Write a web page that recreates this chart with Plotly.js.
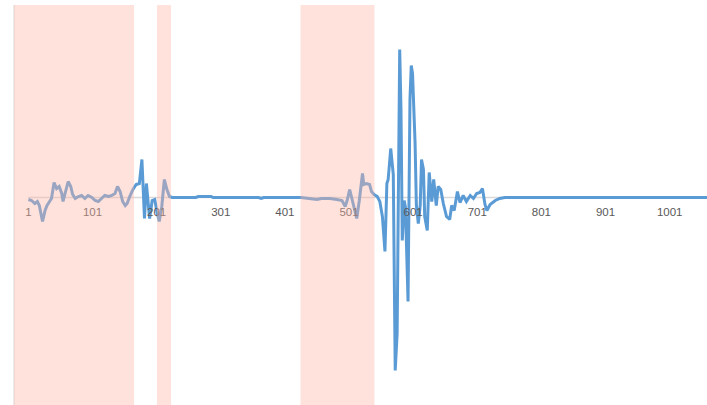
<!DOCTYPE html>
<html>
<head>
<meta charset="utf-8">
<script src="https://cdn.plot.ly/plotly-3.0.1.min.js"></script>
<style>html,body{margin:0;padding:0;background:#fff;}#chart{width:707px;height:405px;}</style>
</head>
<body>
<div id="chart"></div>
<script>
// Sample positions (category index) and signal amplitude
const sampleIndex = [1,6,11,15,18,23,27,30,34,37,41,45,49,53,55,60,63,67,70,74,79,84,89,94,100,105,110,115,120,126,131,136,140,144,148,152,155,159,164,169,174,178,182,185,190,194,198,201,205,209,213,217,221,225,262,266,286,289,360,364,368,426,440,451,458,471,482,490,495,498,502,506,513,517,522,524,528,533,536,540,545,549,553,557,560,562,566,570,573,576,578,580,582,584,587,589,593,596,598,600,604,606,609,612,614,617,619,623,626,630,633,637,640,644,648,653,658,661,665,670,674,679,684,690,695,700,705,709,713,716,721,729,736,744,1060];
const amplitude = [-0.02,-0.03,-0.06,-0.04,-0.08,-0.24,-0.13,-0.08,-0.04,-0.01,0.15,0.09,0.11,0.04,-0.04,0.09,0.16,0.11,0.03,-0.01,0.01,0.02,-0.01,0.02,0.00,-0.03,-0.04,-0.01,0.02,0.01,0.02,0.04,0.11,0.06,-0.04,-0.08,-0.06,0.01,0.08,0.13,0.14,0.38,-0.21,0.14,-0.21,-0.03,-0.02,-0.13,-0.24,-0.09,0.18,0.08,0.01,0,0,0.01,0.01,0,0,-0.01,0,0,-0.01,-0.02,-0.01,-0.01,-0.02,-0.03,-0.09,-0.03,0.08,-0.03,-0.21,-0.03,0.24,0.13,0.14,0.13,0.06,0.03,0.01,-0.04,-0.19,-0.54,0.14,0.18,0.49,0.23,-1.73,-1.36,0.58,1.48,0.88,-0.43,-0.03,-0.10,-1.04,0.98,1.32,1.24,0.54,-0.08,-0.26,-0.08,0.38,0.28,-0.19,-0.33,0.25,-0.04,0.18,-0.08,0.11,0.08,-0.06,-0.19,-0.22,-0.08,-0.13,0.06,-0.05,0.02,-0.04,0.02,-0.01,0.04,0.05,0.09,-0.07,-0.13,-0.07,-0.03,-0.01,0,0];
// Highlighted (shaded) intervals, in category index units
const regionStart = [-21.5, 201.5, 425.3];
const regionEnd = [165.7, 223.4, 540.7];
// Tick labels
const tickValues = [1,101,201,301,401,501,601,701,801,901,1001];
const tickLabels = tickValues.map(String);

const xRange = [-43.3, 1059.2];
const yRange = [-2.075, 1.925];

const shapes = [];
shapes.push({type:'line', xref:'x', yref:'paper', x0:regionStart[0], x1:regionStart[0], y0:0, y1:1,
  line:{color:'#d9d9d9', width:1}, layer:'below'});
shapes.push({type:'line', xref:'x', yref:'y', x0:0.5, x1:xRange[1], y0:0, y1:0,
  line:{color:'#d9d9d9', width:1.5}, layer:'below'});
for (let k = 0; k < regionStart.length; k++) {
  shapes.push({type:'rect', xref:'x', yref:'paper', x0:regionStart[k], x1:regionEnd[k], y0:0, y1:1,
    fillcolor:'rgba(255,180,165,0.39)', line:{width:0}, layer:'above'});
}

const trace = {
  x: sampleIndex, y: amplitude, type:'scatter', mode:'lines',
  line:{color:'#5b9bd5', width:3}, hoverinfo:'skip', cliponaxis:true
};

const zeroFrac = (0 - yRange[0]) / (yRange[1] - yRange[0]);

const layout = {
  width:707, height:405,
  margin:{l:0, r:0, t:5, b:0, pad:0},
  paper_bgcolor:'#ffffff', plot_bgcolor:'#ffffff',
  showlegend:false,
  xaxis:{range:xRange, tickvals:tickValues, ticktext:tickLabels, anchor:'free', position:zeroFrac,
    showgrid:false, zeroline:false, showline:false, ticks:'outside', ticklen:4, tickcolor:'rgba(0,0,0,0)',
    tickfont:{family:'Liberation Sans, Arial, sans-serif', size:11.5, color:'#595959'}, fixedrange:true},
  yaxis:{range:yRange, visible:false, showgrid:false, zeroline:false, fixedrange:true},
  shapes: shapes
};

Plotly.newPlot('chart', [trace], layout, {displayModeBar:false, staticPlot:true});
</script>
</body>
</html>
